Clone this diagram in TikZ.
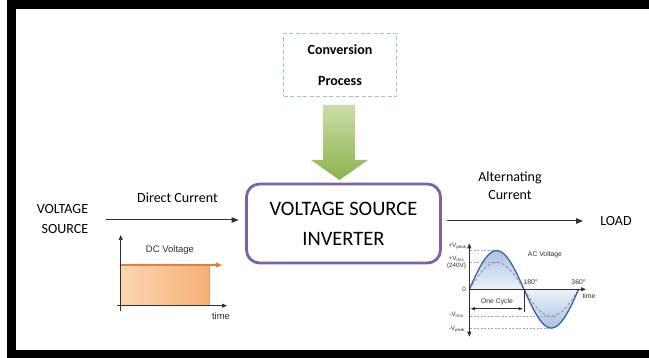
\documentclass[tikz,border=0pt]{standalone}
\usepackage{fontspec}
\setmainfont{Carlito}
\newfontfamily\arialfont{Liberation Sans}
\usetikzlibrary{arrows.meta}

\definecolor{convblue}{HTML}{8CCBDC}
\definecolor{invpurple}{HTML}{7D60A8}
\definecolor{greenlight}{HTML}{C9DEA6}
\definecolor{greendark}{HTML}{8DB24E}
\definecolor{orangelight}{HTML}{FBD6B3}
\definecolor{orangedark}{HTML}{F5B077}
\definecolor{orangeline}{HTML}{EC7C30}
\definecolor{sineblue}{HTML}{3A62AC}
\definecolor{lobeblue}{HTML}{A9C1E1}
\definecolor{lobepale}{HTML}{EEF3FA}
\definecolor{rmspurple}{HTML}{8C7BB4}
\definecolor{inkgray}{HTML}{303030}

\tikzset{
  convbox/.style={draw=convblue, line width=1.2pt, dash pattern=on 4pt off 2.5pt,
    minimum width=113pt, minimum height=63pt, align=center,
    font=\bfseries\fontsize{14}{31}\selectfont},
  invbox/.style={draw=invpurple, line width=2.8pt, rounded corners=13pt,
    minimum width=194pt, minimum height=79pt, align=center,
    font=\fontsize{20.5}{30}\selectfont},
  lbl/.style={font=\fontsize{14}{18}\selectfont, text=black, inner sep=2pt},
  conn/.style={draw=inkgray, line width=1pt, -{Triangle[length=7pt,width=5.5pt]}},
  axisline/.style={draw=inkgray, line width=0.7pt, -{Triangle[length=5pt,width=4pt]}},
  graphtxt/.style={font=\arialfont\fontsize{9.5}{10}\selectfont, text=inkgray, inner sep=0pt},
  tinytxt/.style={font=\arialfont\fontsize{6.8}{7}\selectfont, text=inkgray, inner sep=0pt},
  axtxt/.style={font=\arialfont\fontsize{6.3}{6.6}\selectfont, text=inkgray, inner sep=0pt, align=center},
  refline/.style={draw=gray!70, line width=0.5pt, dash pattern=on 2pt off 1.5pt},
}

\begin{document}
\begin{tikzpicture}[x=1pt,y=-1pt]
\useasboundingbox (0,0) rectangle (649,358);

% black frame
\fill[black] (7,0) rectangle (649,9.5);
\fill[black] (7,0) rectangle (16,358);
\fill[black] (7,350) rectangle (649,358);

% conversion block and green arrow into the inverter
\node[convbox] (conv) at (340,65) {Conversion\\Process};
\shade[top color=greenlight, bottom color=greendark]
  (323,105) -- (355,105) -- (355,160) -- (368,160) -- (339.5,180)
  -- (311,160) -- (323,160) -- cycle;

% inverter
\node[invbox] (inv) at (343.5,223.5) {VOLTAGE SOURCE\\INVERTER};

% source and load
\node[lbl, align=right, font=\fontsize{14}{20}\selectfont] (vs) at (62.5,219) {VOLTAGE\\SOURCE};
\node[lbl] (load) at (616,221) {LOAD};

\coordinate (dcs) at (106,220);
\draw[conn, shorten >=6.5pt] (dcs) -- (dcs -| inv.west);
\node[lbl] (dclbl) at (177.5,198) {Direct Current};

\coordinate (acs) at (447,221);
\draw[conn, shorten >=15pt] (acs) -- (load.west);
\node[lbl, align=center] (aclbl) at (510,186) {Alternating\\Current};

% DC voltage graph
\shade[left color=orangelight, right color=orangedark]
  (120.7,265) rectangle (209.3,305.7);
\draw[draw=orangedark!90!black, line width=0.4pt] (209.3,265) -- (209.3,305.7);
\draw[draw=orangeline, line width=1.2pt, -{Triangle[length=6pt,width=5pt]}]
  (120.7,265) -- (222,265);
\draw[axisline] (120.7,311.5) -- (120.7,235);
\draw[axisline] (116.7,305.7) -- (227,305.7);
\node[graphtxt] (dctitle) at (170,250) {DC Voltage};
\node[graphtxt] (dctime) at (221,316) {time};

% AC voltage graph (half period = 54.7 units)
\shade[top color=lobeblue, bottom color=lobepale]
  (469.3,289.3) plot[domain=0:180, samples=50] ({469.3+(\x/180)*54.7},{289.3-38.6*sin(\x)}) -- cycle;
\shade[top color=lobepale, bottom color=lobeblue]
  (524,289.3) plot[domain=180:360, samples=50] ({469.3+(\x/180)*54.7},{289.3-38.9*sin(\x)}) -- cycle;

\draw[refline] (470,250.7) -- (497,250.7);
\draw[refline] (470,262.3) -- (497,262.3);
\draw[refline] (470,316) -- (556,316);
\draw[refline] (470,328.2) -- (552,328.2);

\draw[draw=rmspurple, line width=0.7pt, dash pattern=on 3pt off 2pt]
  plot[domain=0:360, samples=90] ({469.3+(\x/180)*54.7},{289.3-27*sin(\x)});
\draw[draw=sineblue, line width=1.3pt]
  plot[domain=0:360, samples=90] ({469.3+(\x/180)*54.7},{289.3-38.7*sin(\x)});

\draw[draw=inkgray, line width=0.7pt, {Triangle[length=5pt,width=4pt]}-{Triangle[length=5pt,width=4pt]}]
  (469.3,243.3) -- (469.3,336.7);
\draw[axisline] (469.3,289.3) -- (586,289.3);
\draw[draw=inkgray, line width=0.5pt] (524,289.3) -- (524,311.7);
\draw[draw=inkgray, line width=0.6pt, {Triangle[length=4pt,width=3pt]}-{Triangle[length=4pt,width=3pt]}]
  (470.8,308.7) -- (522.7,308.7);

\node[tinytxt] (actitle) at (545,255) {AC Voltage};
\node[tinytxt] (d180) at (530.5,282.5) {180°};
\node[tinytxt] (d360) at (578.5,282.5) {360°};
\node[tinytxt] (actime) at (589,296) {time};
\node[tinytxt] (cycle) at (497,301.5) {One Cycle};
\node[axtxt] (vpk) at (457.5,246) {+V\textsubscript{peak}};
\node[axtxt] (vrms) at (456.5,262.5) {+V\textsubscript{rms}\\(240V)};
\node[axtxt] (zero) at (464,289.3) {0};
\node[axtxt] (nvrms) at (456.5,315) {-V\textsubscript{rms}};
\node[axtxt] (nvpk) at (457,329) {-V\textsubscript{peak}};
\end{tikzpicture}
\end{document}
